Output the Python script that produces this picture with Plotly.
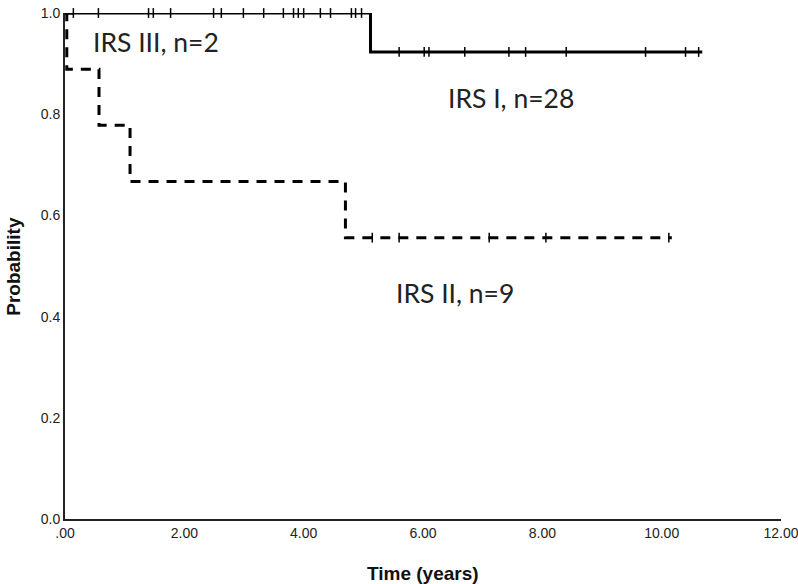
import plotly.graph_objects as go

# ---- data ----
irs1_times = [0.0, 5.12, 10.68]
irs1_surv = [1.0, 0.923, 0.923]
irs1_censor = [0.56, 1.40, 1.48, 1.77, 2.49, 2.62, 2.99, 3.33, 3.66, 3.83, 3.91,
               4.00, 4.28, 4.45, 4.80, 4.87, 4.97,
               5.60, 6.02, 6.10, 6.70, 7.44, 7.72, 8.40, 9.73, 10.40, 10.62]

irs2_times = [0.0, 0.03, 0.57, 1.09, 4.70, 10.17]
irs2_surv = [1.0, 0.889, 0.778, 0.667, 0.556, 0.556]
irs2_censor = [5.15, 5.60, 7.11, 8.06, 10.12]

irs3_times = [0.0, 0.14]
irs3_surv = [1.0, 1.0]
irs3_censor = [0.14]

x_tickvals = [0, 2, 4, 6, 8, 10, 12]
x_ticktext = [".00", "2.00", "4.00", "6.00", "8.00", "10.00", "12.00"]
y_tickvals = [0.0, 0.2, 0.4, 0.6, 0.8, 1.0]
y_ticktext = ["0.0", "0.2", "0.4", "0.6", "0.8", "1.0"]

labels = ["IRS I, n=28", "IRS II, n=9", "IRS III, n=2"]
label_x = [7.48, 6.53, 1.52]
label_y = [0.832, 0.447, 0.943]


def step_value(times, surv, t):
    v = surv[0]
    for ti, si in zip(times, surv):
        if t >= ti:
            v = si
    return v


censor_marker = dict(symbol="line-ns", size=7, line=dict(color="black", width=1.5))

fig = go.Figure()

# IRS II (dashed)
fig.add_trace(go.Scatter(x=irs2_times, y=irs2_surv, mode="lines", line_shape="hv",
                         line=dict(color="black", width=3, dash="10px,8px"),
                         cliponaxis=False, showlegend=False, hoverinfo="skip"))
fig.add_trace(go.Scatter(x=irs2_censor, y=[step_value(irs2_times, irs2_surv, t) for t in irs2_censor],
                         mode="markers", marker=censor_marker,
                         cliponaxis=False, showlegend=False, hoverinfo="skip"))

# IRS III (solid, hidden under IRS I)
fig.add_trace(go.Scatter(x=irs3_times, y=irs3_surv, mode="lines", line_shape="hv",
                         line=dict(color="black", width=3),
                         cliponaxis=False, showlegend=False, hoverinfo="skip"))
fig.add_trace(go.Scatter(x=irs3_censor, y=[step_value(irs3_times, irs3_surv, t) for t in irs3_censor],
                         mode="markers", marker=censor_marker,
                         cliponaxis=False, showlegend=False, hoverinfo="skip"))

# IRS I (solid)
fig.add_trace(go.Scatter(x=irs1_times, y=irs1_surv, mode="lines", line_shape="hv",
                         line=dict(color="black", width=3),
                         cliponaxis=False, showlegend=False, hoverinfo="skip"))
fig.add_trace(go.Scatter(x=irs1_censor, y=[step_value(irs1_times, irs1_surv, t) for t in irs1_censor],
                         mode="markers", marker=censor_marker,
                         cliponaxis=False, showlegend=False, hoverinfo="skip"))

for txt, lx, ly in zip(labels, label_x, label_y):
    fig.add_annotation(x=lx, y=ly, xref="x", yref="y", text=txt, showarrow=False,
                       font=dict(family="Lato, Open Sans, sans-serif", size=26.5, color="#222"))

fig.add_annotation(text="<b>Probability</b>", xref="paper", yref="paper", x=-0.073, y=0.5,
                   textangle=-90, showarrow=False, xanchor="center", yanchor="middle",
                   font=dict(family="Liberation Sans, Arial, sans-serif", size=19, color="#111"))
fig.add_annotation(text="<b>Time (years)</b>", xref="paper", yref="paper", x=0.5, y=-0.107,
                   showarrow=False, xanchor="center", yanchor="middle",
                   font=dict(family="Liberation Sans, Arial, sans-serif", size=19, color="#111"))

tick_font = dict(family="Liberation Sans, Arial, sans-serif", size=14, color="#222")

fig.update_layout(
    template="none",
    width=798, height=584,
    margin=dict(l=65, r=17, t=13, b=65),
    paper_bgcolor="white", plot_bgcolor="white",
    font=dict(family="Liberation Sans, Arial, sans-serif", size=14, color="#222"),
)
fig.update_xaxes(range=[0, 12], tickvals=x_tickvals, ticktext=x_ticktext, automargin=False,
                 showline=True, linecolor="#222", linewidth=2, showgrid=False,
                 zeroline=False, ticks="", ticklen=0, tickfont=tick_font,
                 ticklabeloverflow="allow")
fig.update_yaxes(range=[0, 1], tickvals=y_tickvals, ticktext=y_ticktext, automargin=False,
                 showline=True, linecolor="#222", linewidth=2, showgrid=False,
                 zeroline=False, ticks="", ticklen=0, tickfont=tick_font,
                 ticklabeloverflow="allow")

fig.write_html("out.html", config={"displayModeBar": False},
               post_script="document.body.style.margin='0';document.body.style.overflow='hidden';")
